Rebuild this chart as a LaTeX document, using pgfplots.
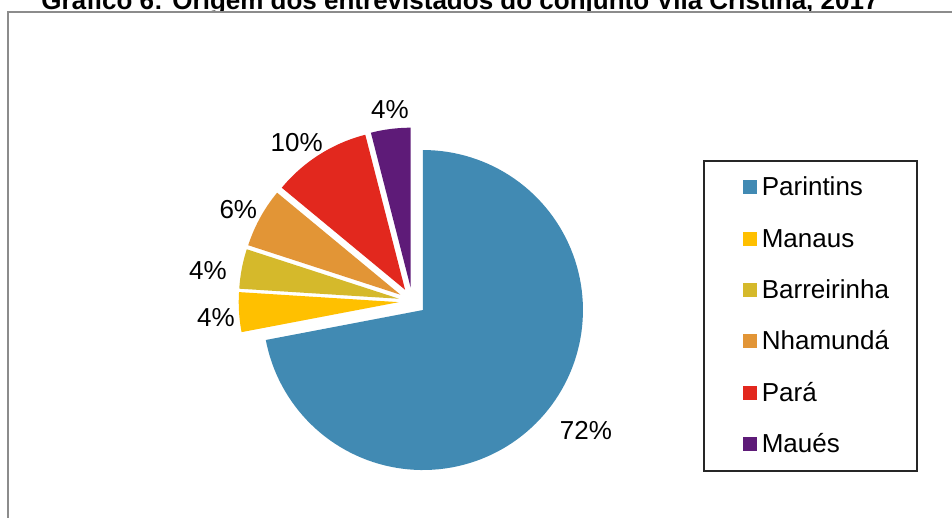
\documentclass[border=0pt]{standalone}
\usepackage{fontspec}
\setmainfont{Liberation Sans}
\usepackage{pgfplots}
\pgfplotsset{compat=1.18}
\definecolor{cParintins}{RGB}{65,138,179}
\definecolor{cManaus}{RGB}{255,192,0}
\definecolor{cBarreirinha}{RGB}{213,185,43}
\definecolor{cNhamunda}{RGB}{226,149,54}
\definecolor{cPara}{RGB}{226,40,30}
\definecolor{cMaues}{RGB}{94,27,120}
% pie geometry (axis units = pixels of the reference)
\def\cx{412.4}\def\cy{-301.3}\def\rr{160}\def\dd{13.7}
% #1 colour, #2 share before this slice (%), #3 share (%), #4 legend text
\newcommand\pieslice[4]{%
  \pgfmathsetmacro\aS{90-3.6*#2}%
  \pgfmathsetmacro\aE{90-3.6*(#2+#3)}%
  \pgfmathsetmacro\aM{(\aS+\aE)/2}%
  \pgfmathsetmacro\ox{\cx+\dd*cos(\aM)}%
  \pgfmathsetmacro\oy{\cy+\dd*sin(\aM)}%
  \edef\doslice{\noexpand\addplot[fill=#1, draw=none, domain=\aE:\aS, samples=120]
    ({\ox+\rr*cos(x)},{\oy+\rr*sin(x)}) -- (axis cs:\ox,\oy) -- cycle;
    \noexpand\addlegendentry{#4}}%
  \doslice
}
\begin{document}
\begin{tikzpicture}
\useasboundingbox (0,0) rectangle (476pt,259pt);
\clip (0,0) rectangle (476pt,259pt);
\node[anchor=base, font=\fontsize{13}{15.6}\selectfont\bfseries, inner sep=0pt]
  at (230pt,254.15pt) {Gráfico 6: Origem dos entrevistados do conjunto Vila Cristina, 2017};
\draw[line width=0.9pt, draw=black!45, fill=white] (4.15pt,253pt) rectangle (600pt,-50pt);
\begin{axis}[
  at={(0pt,0pt)}, anchor=south west,
  scale only axis, width=476pt, height=259pt,
  xmin=0, xmax=952, ymin=-518, ymax=0,
  hide axis, clip=false,
  legend cell align=left,
  legend image code/.code={\path (0pt,0pt); \fill[#1] (5.5pt,-3.5pt) rectangle (12.5pt,3.5pt);},
  legend style={
    at={(0.73845,0.69112)}, anchor=north west,
    draw=black!85, line width=0.8pt, fill=white,
    font=\fontsize{13}{15.6}\selectfont,
    inner xsep=14pt, inner ysep=8pt,
    row sep=15.2pt,
    nodes={inner sep=0pt, text height=9.5pt, text depth=1pt},
    /tikz/every odd column/.append style={column sep=2.5pt},
  },
]
\pieslice{cParintins}{0}{72}{Parintins}
\pieslice{cManaus}{72}{4}{Manaus}
\pieslice{cBarreirinha}{76}{4}{Barreirinha}
\pieslice{cNhamunda}{80}{6}{Nhamundá}
\pieslice{cPara}{86}{10}{Pará}
\pieslice{cMaues}{96}{4}{Maués}
\node[anchor=base, inner sep=0pt, font=\fontsize{13}{15.6}\selectfont] at (axis cs:586,-440) {72\%};
\node[anchor=base, inner sep=0pt, font=\fontsize{13}{15.6}\selectfont] at (axis cs:216,-326.7) {4\%};
\node[anchor=base, inner sep=0pt, font=\fontsize{13}{15.6}\selectfont] at (axis cs:208,-280) {4\%};
\node[anchor=base, inner sep=0pt, font=\fontsize{13}{15.6}\selectfont] at (axis cs:238.3,-218.3) {6\%};
\node[anchor=base, inner sep=0pt, font=\fontsize{13}{15.6}\selectfont] at (axis cs:296.7,-151.7) {10\%};
\node[anchor=base, inner sep=0pt, font=\fontsize{13}{15.6}\selectfont] at (axis cs:390,-118.3) {4\%};
\end{axis}
\end{tikzpicture}
\end{document}
